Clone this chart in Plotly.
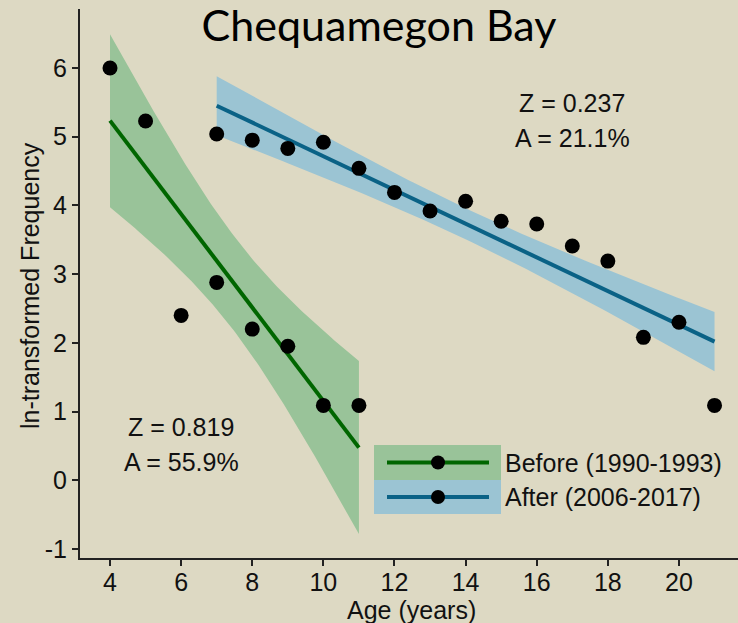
import numpy as np
import plotly.graph_objects as go

# ---------------- data ----------------
title_text = "Chequamegon Bay"
x_title = "Age (years)"
y_title = "ln-transformed Frequency"

before_name = "Before (1990-1993)"
before_age = [4, 5, 6, 7, 8, 9, 10, 11]
before_freq = [6.00, 5.23, 2.40, 2.88, 2.20, 1.95, 1.09, 1.09]
before_stats = ["Z = 0.819", "A = 55.9%"]
before_t95 = 2.447  # t critical, df = 6

after_name = "After (2006-2017)"
after_age = [7, 8, 9, 10, 11, 12, 13, 14, 15, 16, 17, 18, 19, 20, 21]
after_freq = [5.04, 4.95, 4.83, 4.92, 4.54, 4.19, 3.92, 4.06, 3.77, 3.73,
              3.41, 3.19, 2.08, 2.30, 1.09]
after_stats = ["Z = 0.237", "A = 21.1%"]
after_t95 = 2.160  # t critical, df = 13

x_ticks = [4, 6, 8, 10, 12, 14, 16, 18, 20]
y_ticks = [-1, 0, 1, 2, 3, 4, 5, 6]
y_tick_labels = ["-1", "0", "1", "2", "3", "4", "5", "6"]

# ---------------- style ----------------
BG = "#DDD9C3"
GREEN_BAND = "#99C399"
GREEN_LINE = "#006600"
BLUE_BAND = "#9BC4D3"
BLUE_LINE = "#0A6286"
FONT = "Liberation Sans, Arial, sans-serif"
FS = 25
TXT = "#111"


def fit_band(xs, ys, tcrit, n=120):
    xs = np.asarray(xs, float)
    ys = np.asarray(ys, float)
    slope, icpt = np.polyfit(xs, ys, 1)
    resid = ys - (slope * xs + icpt)
    s = np.sqrt(np.sum(resid ** 2) / (len(xs) - 2))
    xm = xs.mean()
    sxx = np.sum((xs - xm) ** 2)
    g = np.linspace(xs.min(), xs.max(), n)
    yhat = slope * g + icpt
    half = tcrit * s * np.sqrt(1.0 / len(xs) + (g - xm) ** 2 / sxx)
    return g, yhat, yhat - half, yhat + half


fig = go.Figure()

groups = [
    (before_age, before_freq, before_t95, GREEN_BAND, GREEN_LINE),
    (after_age, after_freq, after_t95, BLUE_BAND, BLUE_LINE),
]
for ages, freq, tc, band, line in groups:
    g, yh, lo, hi = fit_band(ages, freq, tc)
    fig.add_trace(go.Scatter(
        x=np.concatenate([g, g[::-1]]), y=np.concatenate([hi, lo[::-1]]),
        fill="toself", fillcolor=band, line=dict(width=0), mode="lines",
        hoverinfo="skip", showlegend=False))
for ages, freq, tc, band, line in groups:
    g, yh, lo, hi = fit_band(ages, freq, tc)
    fig.add_trace(go.Scatter(x=g, y=yh, mode="lines",
                             line=dict(color=line, width=4), showlegend=False))
for ages, freq, tc, band, line in groups:
    fig.add_trace(go.Scatter(x=ages, y=freq, mode="markers",
                             marker=dict(color="black", size=15), showlegend=False))

# stats annotations
ann = []
for txt, yy in zip(before_stats, [0.77, 0.26]):
    ann.append(dict(x=6.0, y=yy, xref="x", yref="y", text=txt, showarrow=False,
                    font=dict(family=FONT, size=FS, color=TXT)))
for txt, yy in zip(after_stats, [5.49, 4.98]):
    ann.append(dict(x=17.0, y=yy, xref="x", yref="y", text=txt, showarrow=False,
                    font=dict(family=FONT, size=FS, color=TXT)))

# custom legend (paper coords)
L, T, B = 80, 9, 558
PW, PH = 738 - L, B - T
def px(v):
    return (v - L) / PW
def py(v):
    return (B - v) / PH

shapes = []
leg_rows = [(before_name, GREEN_BAND, GREEN_LINE, 445, 480),
            (after_name, BLUE_BAND, BLUE_LINE, 480, 514)]
for name, band, line, top, bot in leg_rows:
    cy = (top + bot) / 2
    shapes.append(dict(type="rect", xref="paper", yref="paper",
                       x0=px(374), x1=px(501), y0=py(bot), y1=py(top),
                       fillcolor=band, line=dict(width=0), layer="above"))
    shapes.append(dict(type="line", xref="paper", yref="paper",
                       x0=px(387), x1=px(489), y0=py(cy), y1=py(cy),
                       line=dict(color=line, width=4), layer="above"))
    shapes.append(dict(type="circle", xref="paper", yref="paper",
                       xsizemode="pixel", ysizemode="pixel",
                       xanchor=px(438), yanchor=py(cy),
                       x0=-7, x1=7, y0=-7, y1=7,
                       fillcolor="black", line=dict(width=0), layer="above"))
    ann.append(dict(x=px(503), y=py(cy), xref="paper", yref="paper",
                    xanchor="left", yanchor="middle", text=name, showarrow=False,
                    font=dict(family=FONT, size=FS, color=TXT)))

# axis titles as annotations (fixed placement)
ann.append(dict(x=px(411), y=py(610), xref="paper", yref="paper",
                xanchor="center", yanchor="middle", text=x_title, showarrow=False,
                font=dict(family=FONT, size=FS, color=TXT)))
ann.append(dict(x=px(30), y=py(286), xref="paper", yref="paper",
                xanchor="center", yanchor="middle", text=y_title, showarrow=False,
                textangle=-90, font=dict(family=FONT, size=FS, color=TXT)))

fig.update_layout(
    width=738, height=623,
    margin=dict(l=L, r=0, t=T, b=623 - B, autoexpand=False),
    paper_bgcolor=BG, plot_bgcolor=BG,
    title=dict(text=title_text, x=379 / 738, xref="container", xanchor="center",
               y=1 - 26 / 623, yref="container", yanchor="middle",
               font=dict(family="Lato, Carlito, sans-serif", size=43, color="black")),
    annotations=ann, shapes=shapes,
    showlegend=False,
)
fig.update_xaxes(range=[3.156, 21.66], tickvals=x_ticks, showgrid=False, zeroline=False,
                 showline=True, linecolor="#222", linewidth=2, ticks="outside",
                 ticklen=6, tickwidth=1.5, tickcolor="#222", automargin=False,
                 ticklabelstandoff=-5,
                 tickfont=dict(family=FONT, size=FS, color=TXT))
fig.update_yaxes(range=[-1.131, 6.859], tickvals=y_ticks, ticktext=y_tick_labels,
                 showgrid=False, zeroline=False,
                 showline=True, linecolor="#222", linewidth=2, ticks="outside",
                 ticklen=6, tickwidth=1.5, tickcolor="#222", automargin=False,
                 tickfont=dict(family=FONT, size=FS, color=TXT))

fig.write_html("out.html", config={"displayModeBar": False},
               post_script="document.body.style.margin='0';"
                           "document.body.style.background='" + BG + "';")
